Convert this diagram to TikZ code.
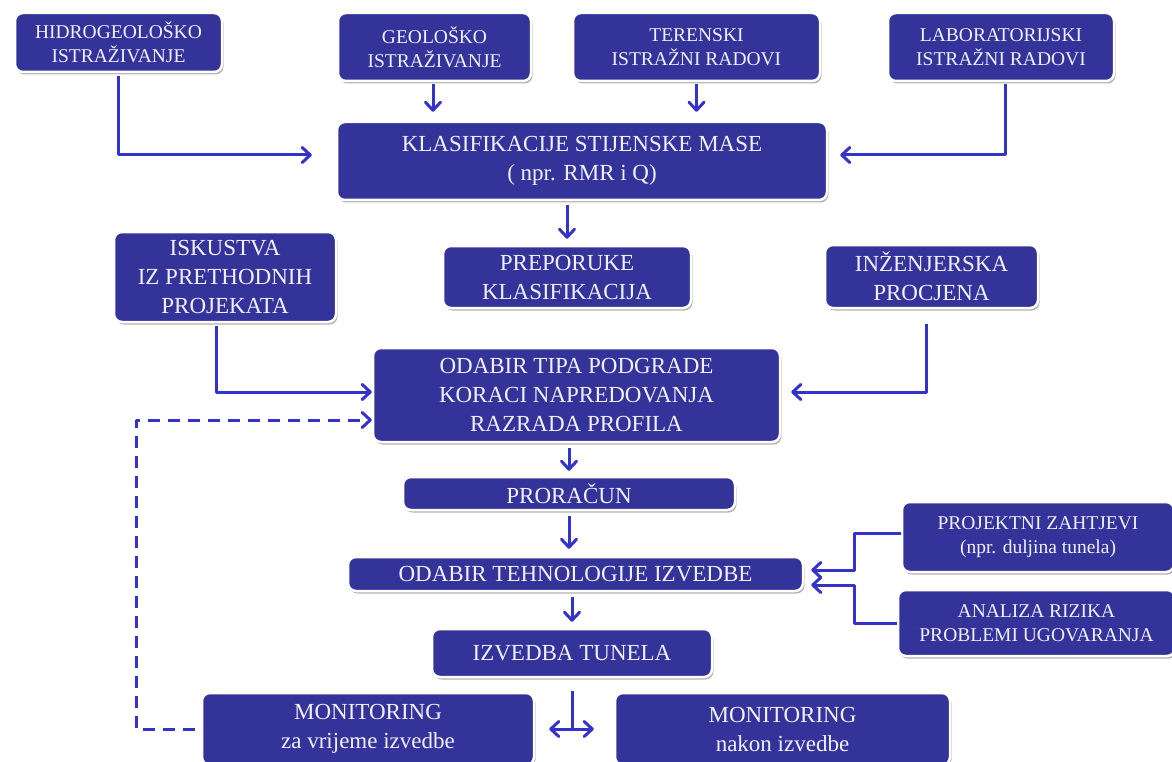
\documentclass[tikz,border=0pt]{standalone}
\usepackage{fontspec}
\setmainfont{Liberation Serif}
\usetikzlibrary{arrows.meta,positioning,shadows,calc}
\definecolor{boxblue}{RGB}{51,51,153}
\definecolor{arrowblue}{RGB}{51,51,204}
\definecolor{boxtext}{RGB}{242,240,255}
\tikzset{
  flow box/.style={rectangle,draw=white,line width=2.5pt,fill=boxblue,text=boxtext,
    rounded corners=8pt,align=center,inner sep=2pt,font=\fontsize{23}{29}\selectfont,
    drop shadow={shadow xshift=1.5pt,shadow yshift=-2.5pt,fill=black,opacity=0.3}},
  flow small/.style={flow box,font=\fontsize{19.5}{24}\selectfont},
  flow arrow/.style={-{Straight Barb[length=8pt,width=15pt,round]},draw=arrowblue,line width=3pt,line join=round},
  flow both/.style={flow arrow,{Straight Barb[length=8pt,width=15pt,round]}-{Straight Barb[length=8pt,width=15pt,round]}},
  flow back/.style={flow arrow,dash pattern=on 12pt off 8pt},
  flow line/.style={draw=arrowblue,line width=3pt}
}

\begin{document}
\begin{tikzpicture}[x=1pt,y=-1pt]
  \useasboundingbox (0,0) rectangle (1172,762);
  \clip (0,0) rectangle (1172,762);
  % investigation boxes
  \node[flow small,minimum width=207pt,minimum height=59pt] (hidro) at (118.5,42.5) {HIDROGEOLOŠKO\\ISTRAŽIVANJE};
  \node[flow small,minimum width=193pt,minimum height=68pt] (geo) at (434.5,47) {GEOLOŠKO\\ISTRAŽIVANJE};
  \node[flow small,minimum width=247pt,minimum height=68pt] (teren) at (696.5,47) {TERENSKI\\ISTRAŽNI RADOVI};
  \node[flow small,minimum width=226pt,minimum height=68pt] (lab) at (1001,47) {LABORATORIJSKI\\ISTRAŽNI RADOVI};
  \node[flow box,minimum width=490pt,minimum height=78pt] (klas) at (582,161) {KLASIFIKACIJE STIJENSKE MASE\\( npr. RMR i Q)};
  % design inputs
  \node[flow box,minimum width=222pt,minimum height=90pt] (isk) at (225,277) {ISKUSTVA\\IZ PRETHODNIH\\PROJEKATA};
  \node[flow box,minimum width=248pt,minimum height=62pt] (prep) at (567,277) {PREPORUKE\\KLASIFIKACIJA};
  \node[flow box,minimum width=213pt,minimum height=63pt] (inz) at (931.5,276.5) {INŽENJERSKA\\PROCJENA};
  \node[flow box,minimum width=407pt,minimum height=94pt] (odabir) at (576.5,395) {ODABIR TIPA PODGRADE\\KORACI NAPREDOVANJA\\RAZRADA PROFILA};
  \node[flow box,minimum width=332pt,minimum height=33pt] (prorac) at (569,493.5) {PRORAČUN};
  \node[flow box,minimum width=455pt,minimum height=34pt] (tehno) at (575.5,574) {ODABIR TEHNOLOGIJE IZVEDBE};
  \node[flow small,minimum width=272pt,minimum height=70pt] (proj) at (1038,537) {PROJEKTNI ZAHTJEVI\\(npr. duljina tunela)};
  \node[flow small,minimum width=277pt,minimum height=66pt] (anal) at (1036.5,623) {ANALIZA RIZIKA\\PROBLEMI UGOVARANJA};
  \node[flow box,minimum width=280pt,minimum height=48pt] (izv) at (572,653) {IZVEDBA TUNELA};
  \node[flow box,minimum width=332pt,minimum height=72pt] (mon1) at (368,729) {MONITORING\\za vrijeme izvedbe};
  \node[flow box,minimum width=335pt,minimum height=72pt] (mon2) at (782.5,729) {MONITORING\\nakon izvedbe};
  % connectors
  \draw[flow arrow,shorten <=3pt,shorten >=24pt] (hidro.south) |- ([yshift=6pt]klas.west);
  \draw[flow arrow,shorten <=2pt,shorten >=9pt] ([xshift=-1.5pt]geo.south) -- ([xshift=-1.5pt]geo.south |- klas.north);
  \draw[flow arrow,shorten <=2pt,shorten >=9pt] (teren.south) -- (teren.south |- klas.north);
  \draw[flow arrow,shorten <=2pt,shorten >=12pt] ([xshift=4pt]lab.south) |- ([yshift=6pt]klas.east);
  \draw[flow arrow,shorten <=4pt,shorten >=6pt] (klas.south -| prep.north) -- (prep.north);
  \draw[flow arrow,shorten <=3pt] ([xshift=-9pt]isk.south) |- ([yshift=3pt]odabir.west);
  \draw[flow arrow,shorten <=15pt,shorten >=10pt] ([xshift=-5pt]inz.south) |- ([yshift=3pt]odabir.east);
  \coordinate (fbk) at (136,420);
  \draw[flow back,shorten <=6pt] (mon1.west) -| (fbk) -- (fbk -| odabir.west);
  \draw[flow arrow,shorten <=5pt,shorten >=5pt] (odabir.south -| prorac.north) -- (prorac.north);
  \draw[flow arrow,shorten <=5pt,shorten >=7pt] (prorac.south) -- (prorac.south |- tehno.north);
  \draw[flow arrow,shorten <=5pt,shorten >=6pt] (tehno.south -| izv.north) -- (izv.north);
  \draw[flow arrow,shorten >=7pt] ([yshift=4pt]proj.west) -- ++(-46,0) |- ([yshift=4pt]tehno.east);
  \draw[flow arrow,shorten >=7pt] (anal.west) -- ++(-42,0) |- ([yshift=-11pt]tehno.east);
  \draw[flow line,shorten <=13pt] (izv.south) -- (izv.south |- mon1.east);
  \draw[flow both] ([xshift=14pt]mon1.east) -- ([xshift=-20pt]mon2.west);
\end{tikzpicture}
\end{document}
